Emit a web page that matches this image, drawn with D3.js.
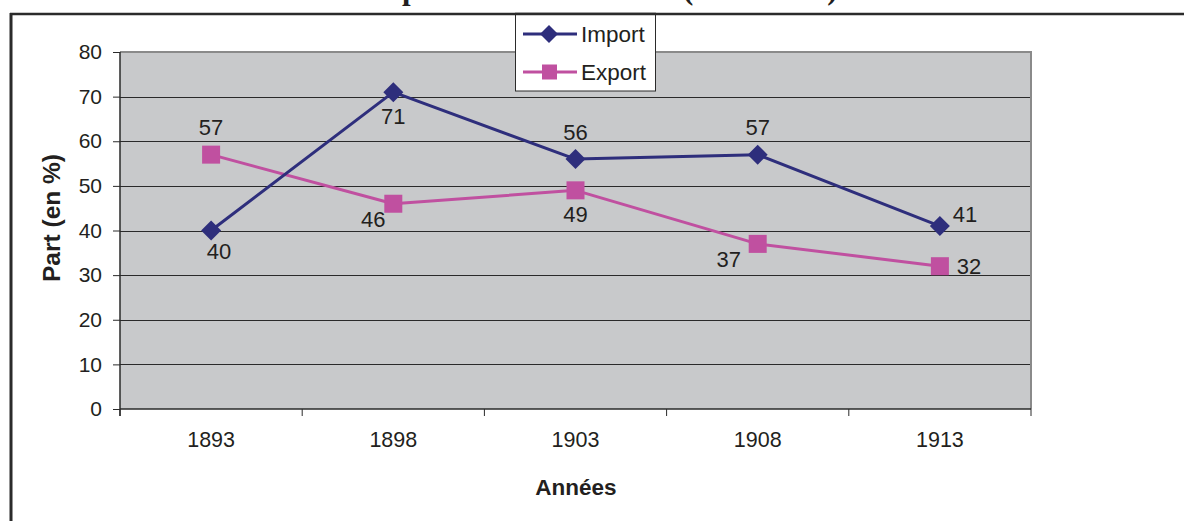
<!DOCTYPE html>
<html><head><meta charset="utf-8">
<script src="https://cdn.jsdelivr.net/npm/d3@7"></script>
<style>body{margin:0;background:#fff}svg{display:block}</style>
</head><body>
<svg id="c" width="1184" height="521"></svg>
<script>
const categories = ["1893","1898","1903","1908","1913"];
const importValues = [40,71,56,57,41];
const exportValues = [57,46,49,37,32];
const yTicks = [0,10,20,30,40,50,60,70,80];
const importLabelPos = ["belowRight","below","above","above","upperRight"];
const exportLabelPos = ["above","belowLeft","below","lowerLeft","right"];
const titleText = "Part de l'Europe dans le commerce (1893-1913)";

const svg = d3.select("#c");
const W = 1184, H = 521;
const m = {l:120, r:1031, t:52, b:409};
const font = "'Liberation Sans', Arial, sans-serif";
const txt = "#231f20";
const cImp = "#2e2e7c", cExp = "#c050a0";

const x = d3.scaleBand().domain(categories).range([m.l, m.r]);
const y = d3.scaleLinear().domain([0,80]).range([m.b, m.t]);

// title (cut off at top, as in the reference)
const title = svg.append("text").text(titleText)
  .attr("font-family","'Liberation Serif','Times New Roman',serif")
  .attr("font-weight","bold").attr("font-size",26).attr("fill",txt)
  .attr("dominant-baseline","alphabetic")
  .attr("x",0).attr("y",-1.5);
(function(){
  const n = title.node();
  const s = titleText;
  const ip = s.indexOf("pe dans");
  const ipar = s.indexOf("(");
  const px = n.getStartPositionOfChar(ip).x;
  const parx = n.getStartPositionOfChar(ipar).x;
  const k = (683-402)/(parx-px);
  title.attr("font-size", 26*k);
  const px2 = n.getStartPositionOfChar(ip).x;
  title.attr("x", 402-px2);
})();

// outer frame
svg.append("line").attr("x1",10).attr("x2",W).attr("y1",14).attr("y2",14).attr("stroke","#2b2b2b").attr("stroke-width",2.5);
svg.append("line").attr("x1",11).attr("x2",11).attr("y1",13).attr("y2",H).attr("stroke","#2b2b2b").attr("stroke-width",3);

// plot background
svg.append("rect").attr("x",m.l).attr("y",m.t).attr("width",m.r-m.l).attr("height",m.b-m.t).attr("fill","#c8c9cb");

// gridlines
svg.append("g").selectAll("line").data(yTicks.filter(d=>d>0 && d<80)).join("line")
  .attr("x1",m.l).attr("x2",m.r).attr("y1",d=>Math.round(y(d))+0.5).attr("y2",d=>Math.round(y(d))+0.5)
  .attr("stroke","#2a2a2a").attr("stroke-width",1);
// top and right border (grey)
svg.append("line").attr("x1",m.l).attr("x2",m.r+1).attr("y1",m.t).attr("y2",m.t).attr("stroke","#8a8a8a").attr("stroke-width",2);
svg.append("line").attr("x1",m.r).attr("x2",m.r).attr("y1",m.t).attr("y2",m.b).attr("stroke","#8a8a8a").attr("stroke-width",2);

// y axis
const ya = svg.append("g").attr("transform",`translate(${m.l},0)`)
  .call(d3.axisLeft(y).tickValues(yTicks).tickSize(7).tickPadding(11));
ya.select(".domain").attr("stroke","#2a2a2a").attr("stroke-width",1.5).attr("d",`M0,${m.t}V${m.b+7}`);
ya.selectAll(".tick line").attr("stroke","#2a2a2a");
ya.selectAll(".tick text").attr("font-family",font).attr("font-size",21).attr("fill",txt);

// x axis
const xa = svg.append("g").attr("transform",`translate(0,${m.b})`)
  .call(d3.axisBottom(x).tickSize(0).tickPadding(23));
xa.select(".domain").attr("stroke","#2a2a2a").attr("stroke-width",1.5).attr("d",`M${m.l},0H${m.r}`);
xa.selectAll(".tick text").attr("font-family",font).attr("font-size",21.5).attr("fill",txt);
// category boundary ticks
const bounds = categories.map(c=>x(c)).concat([x(categories[categories.length-1])+x.bandwidth()]);
xa.append("g").selectAll("line").data(bounds).join("line")
  .attr("x1",d=>d).attr("x2",d=>d).attr("y1",0).attr("y2",7).attr("stroke","#2a2a2a").attr("stroke-width",1);

// axis titles
svg.append("text").text("Part (en %)").attr("font-family",font).attr("font-weight","bold").attr("font-size",24.5)
  .attr("fill",txt).attr("text-anchor","middle")
  .attr("transform",`translate(60,218) rotate(-90)`);
svg.append("text").text("Années").attr("font-family",font).attr("font-weight","bold").attr("font-size",22.5)
  .attr("fill",txt).attr("text-anchor","middle").attr("x",576).attr("y",495);

const cx = c => x(c) + x.bandwidth()/2;
const line = d3.line().x((d,i)=>cx(categories[i])).y(d=>y(d));

function series(vals, color, shape, pos){
  svg.append("path").datum(vals).attr("d",line).attr("fill","none").attr("stroke",color).attr("stroke-width",3).attr("stroke-linejoin","round");
  const g = svg.append("g");
  vals.forEach((v,i)=>{
    const px = cx(categories[i]), py = y(v);
    if(shape==="diamond"){
      g.append("path").attr("d",`M${px},${py-10}L${px+10},${py}L${px},${py+10}L${px-10},${py}Z`).attr("fill",color);
    } else {
      g.append("rect").attr("x",px-9).attr("y",py-9).attr("width",18).attr("height",18).attr("fill",color);
    }
  });
  const off = {above:[0,-27], below:[0,24], belowRight:[8,21], belowLeft:[-20,16], lowerLeft:[-29,16],
               right:[29,0], upperRight:[25,-12]};
  g.selectAll("text").data(vals).join("text").text(d=>d)
    .attr("font-family",font).attr("font-size",22).attr("fill",txt).attr("text-anchor","middle")
    .attr("dominant-baseline","central")
    .attr("x",(d,i)=>cx(categories[i])+off[pos[i]][0])
    .attr("y",(d,i)=>y(d)+off[pos[i]][1]);
}
series(exportValues, cExp, "square", exportLabelPos);
series(importValues, cImp, "diamond", importLabelPos);

// legend
const lg = svg.append("g");
lg.append("rect").attr("x",515.5).attr("y",14).attr("width",140).attr("height",77).attr("fill","#fff").attr("stroke","#2b2b2b").attr("stroke-width",1);
svg.append("line").attr("x1",515).attr("x2",656).attr("y1",14).attr("y2",14).attr("stroke","#2b2b2b").attr("stroke-width",2.5);
const items = [{name:"Import",color:cImp,shape:"diamond",y:34},{name:"Export",color:cExp,shape:"square",y:72}];
items.forEach(it=>{
  lg.append("line").attr("x1",523).attr("x2",577).attr("y1",it.y).attr("y2",it.y).attr("stroke",it.color).attr("stroke-width",3);
  if(it.shape==="diamond") lg.append("path").attr("d",`M549,${it.y-9}L558,${it.y}L549,${it.y+9}L540,${it.y}Z`).attr("fill",it.color);
  else lg.append("rect").attr("x",542).attr("y",it.y-7.5).attr("width",15).attr("height",15).attr("fill",it.color);
  lg.append("text").text(it.name).attr("x",581).attr("y",it.y).attr("dominant-baseline","central")
    .attr("font-family",font).attr("font-size",22.5).attr("fill",txt);
});
</script>
</body></html>
